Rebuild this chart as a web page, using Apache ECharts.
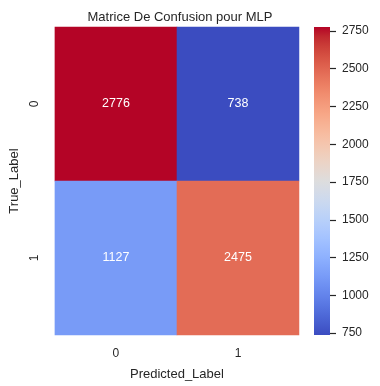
<!DOCTYPE html>
<html>
<head>
<meta charset="utf-8">
<script src="https://cdn.jsdelivr.net/npm/echarts@6/dist/echarts.min.js"></script>
<style>html,body{margin:0;padding:0;background:#fff;}#c{width:380px;height:386px;}</style>
</head>
<body>
<div id="c"></div>
<script>
const predictedLabels = ['0', '1'];
const trueLabels = ['0', '1'];
// rows: true label, cols: predicted label
const matrix = [
  [2776, 738],
  [1127, 2475]
];
const colorbarTicks = [750, 1000, 1250, 1500, 1750, 2000, 2250, 2500, 2750];
const coolwarm = ['#3b4cc0','#445acc','#4d68d7','#5775e1','#6282ea','#6c8ef1','#779af7','#82a5fb','#8db0fe','#98b9ff','#a3c2ff','#aec9fd','#b8d0f9','#c2d5f4','#ccd9ee','#d5dbe6','#dddddd','#e5d8d1','#ecd3c5','#f1ccb8','#f5c4ac','#f7bb9f','#f7b193','#f7a686','#f49a7b','#f18d6f','#ec7f63','#e57059','#de604d','#d55042','#cb3e38','#c0282f','#b40426'];

const flat = [];
matrix.forEach((row, i) => row.forEach((v, j) => flat.push([j, i, v])));
const vmin = Math.min(...flat.map(d => d[2]));
const vmax = Math.max(...flat.map(d => d[2]));

const gradStops = coolwarm.map((c, i) => ({ offset: 1 - i / (coolwarm.length - 1), color: c }));

const txt = '#262626';
const font = 'Liberation Sans, Arial, sans-serif';
const chart = echarts.init(document.getElementById('c'));
chart.setOption({
  backgroundColor: '#fff',
  animation: false,
  title: {
    text: 'Matrice De Confusion pour MLP',
    left: 175, top: 6, textAlign: 'center',
    textStyle: { fontSize: 13, fontWeight: 'normal', color: txt, fontFamily: font }
  },
  grid: [
    { left: 51, top: 27, width: 248, height: 308 },
    { left: 314, top: 27, width: 16, height: 308 }
  ],
  xAxis: [
    {
      gridIndex: 0, type: 'category', data: predictedLabels,
      name: 'Predicted_Label', nameLocation: 'middle', nameGap: 33,
      nameTextStyle: { fontSize: 13, color: txt, fontFamily: font },
      axisLine: { show: false }, axisTick: { show: false }, splitLine: { show: false },
      axisLabel: { fontSize: 12, color: txt, fontFamily: font, margin: 13 }
    },
    {
      gridIndex: 1, type: 'category', data: ['cb'], show: false
    }
  ],
  yAxis: [
    {
      gridIndex: 0, type: 'category', data: trueLabels, inverse: true,
      name: 'True_Label', nameLocation: 'middle', nameGap: 31,
      nameTextStyle: { fontSize: 13, color: txt, fontFamily: font },
      axisLine: { show: false }, axisTick: { show: false }, splitLine: { show: false },
      axisLabel: { fontSize: 12, color: txt, fontFamily: font, rotate: 90, margin: 14 }
    },
    {
      gridIndex: 1, type: 'value', position: 'right', min: vmin, max: vmax,
      axisLine: { show: false }, splitLine: { show: false },
      axisTick: { show: true, inside: false, length: 6, lineStyle: { color: txt, width: 1.2 }, customValues: colorbarTicks },
      axisLabel: { show: true, fontSize: 12, color: txt, fontFamily: font, margin: 12, customValues: colorbarTicks, formatter: v => String(v) }
    }
  ],
  visualMap: {
    type: 'continuous', seriesIndex: 0, min: vmin, max: vmax,
    show: false,
    inRange: { color: coolwarm }
  },
  series: [
    {
      type: 'heatmap', xAxisIndex: 0, yAxisIndex: 0, data: flat,
      label: { show: true, color: '#fff', fontSize: 12.5, fontFamily: font, formatter: p => p.value[2] },
      itemStyle: { borderWidth: 0 },
      emphasis: { disabled: true }
    },
    {
      type: 'bar', xAxisIndex: 1, yAxisIndex: 1, data: [vmax], barWidth: '100%',
      silent: true,
      itemStyle: { color: new echarts.graphic.LinearGradient(0, 0, 0, 1, gradStops) }
    }
  ]
});
</script>
</body>
</html>
